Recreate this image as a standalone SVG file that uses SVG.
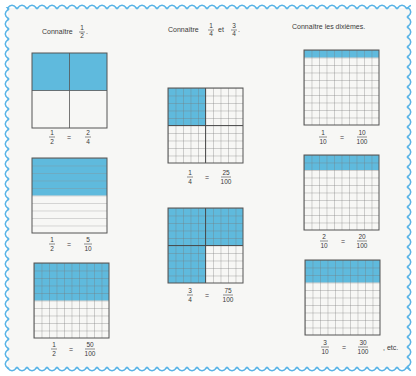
<svg xmlns="http://www.w3.org/2000/svg" width="416" height="376" viewBox="0 0 416 376">
<style>
text{font-family:"Liberation Sans",Arial,sans-serif;fill:#3a3a3a}
.t{font-size:7px}
.f{font-size:6.5px;text-anchor:middle}
.eq{font-size:7px;text-anchor:middle}
.bar{stroke:#444;stroke-width:0.6}
.box{fill:none;stroke:#555;stroke-width:1}
.blue{fill:#5fbadd}
.mid{stroke:#444;stroke-width:0.9}
</style>
<defs>
<pattern id="sc" width="10" height="8" patternUnits="userSpaceOnUse">
<path d="M0 6 Q5 -1.5 10 6" fill="none" stroke="#5ab4e6" stroke-width="1.6"/>
</pattern>
<pattern id="grid" width="7.5" height="7.5" patternUnits="userSpaceOnUse">
<path d="M0 0H7.5M0 0V7.5" fill="none" stroke="#777" stroke-width="0.65"/>
</pattern>
<pattern id="strip" width="75" height="7.5" patternUnits="userSpaceOnUse">
<path d="M0 0H75" fill="none" stroke="#888" stroke-width="0.65"/>
</pattern>
</defs>
<rect x="0" y="0" width="416" height="376" fill="#ffffff"/>
<rect x="8" y="8" width="402" height="360" fill="#f7f7f5"/>
<g id="border">
<g transform="translate(7,3)"><rect width="404" height="8" fill="url(#sc)"/></g>
<g transform="translate(7,373) scale(1,-1)"><rect width="404" height="8" fill="url(#sc)"/></g>
<g transform="translate(3,369) rotate(-90)"><rect width="362" height="8" fill="url(#sc)"/></g>
<g transform="translate(413,7) rotate(90)"><rect width="362" height="8" fill="url(#sc)"/></g>
</g>
<g id="titles">
<text class="t" x="42" y="34">Connaître</text>
<text class="f" x="82" y="30">1</text><line class="bar" x1="79" y1="32" x2="85" y2="32"/><text class="f" x="82" y="38">2</text>
<text class="t" x="86" y="34">.</text>
<text class="t" x="168" y="32">Connaître</text>
<text class="f" x="211" y="28">1</text><line class="bar" x1="208" y1="30" x2="214" y2="30"/><text class="f" x="211" y="36">4</text>
<text class="t" x="218" y="32">et</text>
<text class="f" x="234" y="28">3</text><line class="bar" x1="231" y1="30" x2="237" y2="30"/><text class="f" x="234" y="36">4</text>
<text class="t" x="238" y="32">.</text>
<text class="t" x="292" y="29">Connaître les dixièmes.</text>
</g>
<g id="s1" transform="translate(32,53)">
<rect class="blue" width="75" height="37.5"/>
<path d="M37.5 0V75M0 37.5H75" stroke="#555" stroke-width="0.8"/>
<rect class="box" width="75" height="75"/>
</g>
<g id="s2" transform="translate(32,158)">
<rect class="blue" width="75" height="37.5"/>
<rect width="75" height="75" fill="url(#strip)"/>
<rect class="box" width="75" height="75"/>
</g>
<g id="s3" transform="translate(34,263)">
<rect class="blue" width="75" height="37.5"/>
<rect width="75" height="75" fill="url(#grid)"/>
<rect class="box" width="75" height="75"/>
</g>
<g id="s4" transform="translate(168,88)">
<rect class="blue" width="37.5" height="37.5"/>
<rect width="75" height="75" fill="url(#grid)"/>
<path class="mid" d="M37.5 0V75M0 37.5H75"/>
<rect class="box" width="75" height="75"/>
</g>
<g id="s5" transform="translate(168,208)">
<path class="blue" d="M0 0H75V37.5H37.5V75H0Z"/>
<rect width="75" height="75" fill="url(#grid)"/>
<path class="mid" d="M37.5 0V75M0 37.5H75"/>
<rect class="box" width="75" height="75"/>
</g>
<g id="s6" transform="translate(304,50)">
<rect class="blue" width="75" height="7.5"/>
<rect width="75" height="75" fill="url(#grid)"/>
<rect class="box" width="75" height="75"/>
</g>
<g id="s7" transform="translate(304,155)">
<rect class="blue" width="75" height="15"/>
<rect width="75" height="75" fill="url(#grid)"/>
<rect class="box" width="75" height="75"/>
</g>
<g id="s8" transform="translate(305,260)">
<rect class="blue" width="75" height="22.5"/>
<rect width="75" height="75" fill="url(#grid)"/>
<rect class="box" width="75" height="75"/>
</g>
<g id="fractions">
<g transform="translate(0,137)">
<text class="f" x="52" y="-2">1</text><line class="bar" x1="49" y1="0" x2="55" y2="0"/><text class="f" x="52" y="6.5">2</text>
<text class="eq" x="69" y="2.5">=</text>
<text class="f" x="88" y="-2">2</text><line class="bar" x1="85" y1="0" x2="91" y2="0"/><text class="f" x="88" y="6.5">4</text>
</g>
<g transform="translate(0,244)">
<text class="f" x="52" y="-2">1</text><line class="bar" x1="49" y1="0" x2="55" y2="0"/><text class="f" x="52" y="6.5">2</text>
<text class="eq" x="69" y="2.5">=</text>
<text class="f" x="88" y="-2">5</text><line class="bar" x1="84" y1="0" x2="92" y2="0"/><text class="f" x="88" y="6.5">10</text>
</g>
<g transform="translate(0,349)">
<text class="f" x="54" y="-2">1</text><line class="bar" x1="51" y1="0" x2="57" y2="0"/><text class="f" x="54" y="6.5">2</text>
<text class="eq" x="71" y="2.5">=</text>
<text class="f" x="90" y="-2">50</text><line class="bar" x1="85" y1="0" x2="95" y2="0"/><text class="f" x="90" y="6.5">100</text>
</g>
<g transform="translate(0,177)">
<text class="f" x="190" y="-2">1</text><line class="bar" x1="187" y1="0" x2="193" y2="0"/><text class="f" x="190" y="6.5">4</text>
<text class="eq" x="207" y="2.5">=</text>
<text class="f" x="226" y="-2">25</text><line class="bar" x1="221" y1="0" x2="231" y2="0"/><text class="f" x="226" y="6.5">100</text>
</g>
<g transform="translate(0,295)">
<text class="f" x="190" y="-2">3</text><line class="bar" x1="187" y1="0" x2="193" y2="0"/><text class="f" x="190" y="6.5">4</text>
<text class="eq" x="207" y="2.5">=</text>
<text class="f" x="228" y="-2">75</text><line class="bar" x1="223" y1="0" x2="233" y2="0"/><text class="f" x="228" y="6.5">100</text>
</g>
<g transform="translate(0,137)">
<text class="f" x="323" y="-2">1</text><line class="bar" x1="319" y1="0" x2="327" y2="0"/><text class="f" x="323" y="6.5">10</text>
<text class="eq" x="342" y="2.5">=</text>
<text class="f" x="362" y="-2">10</text><line class="bar" x1="357" y1="0" x2="367" y2="0"/><text class="f" x="362" y="6.5">100</text>
</g>
<g transform="translate(0,241)">
<text class="f" x="324" y="-2">2</text><line class="bar" x1="320" y1="0" x2="328" y2="0"/><text class="f" x="324" y="6.5">10</text>
<text class="eq" x="343" y="2.5">=</text>
<text class="f" x="362" y="-2">20</text><line class="bar" x1="357" y1="0" x2="367" y2="0"/><text class="f" x="362" y="6.5">100</text>
</g>
<g transform="translate(0,347)">
<text class="f" x="325" y="-2">3</text><line class="bar" x1="321" y1="0" x2="329" y2="0"/><text class="f" x="325" y="6.5">10</text>
<text class="eq" x="344" y="2.5">=</text>
<text class="f" x="363" y="-2">30</text><line class="bar" x1="358" y1="0" x2="368" y2="0"/><text class="f" x="363" y="6.5">100</text>
<text class="t" x="383" y="3">, etc.</text>
</g>
</g>
</svg>
